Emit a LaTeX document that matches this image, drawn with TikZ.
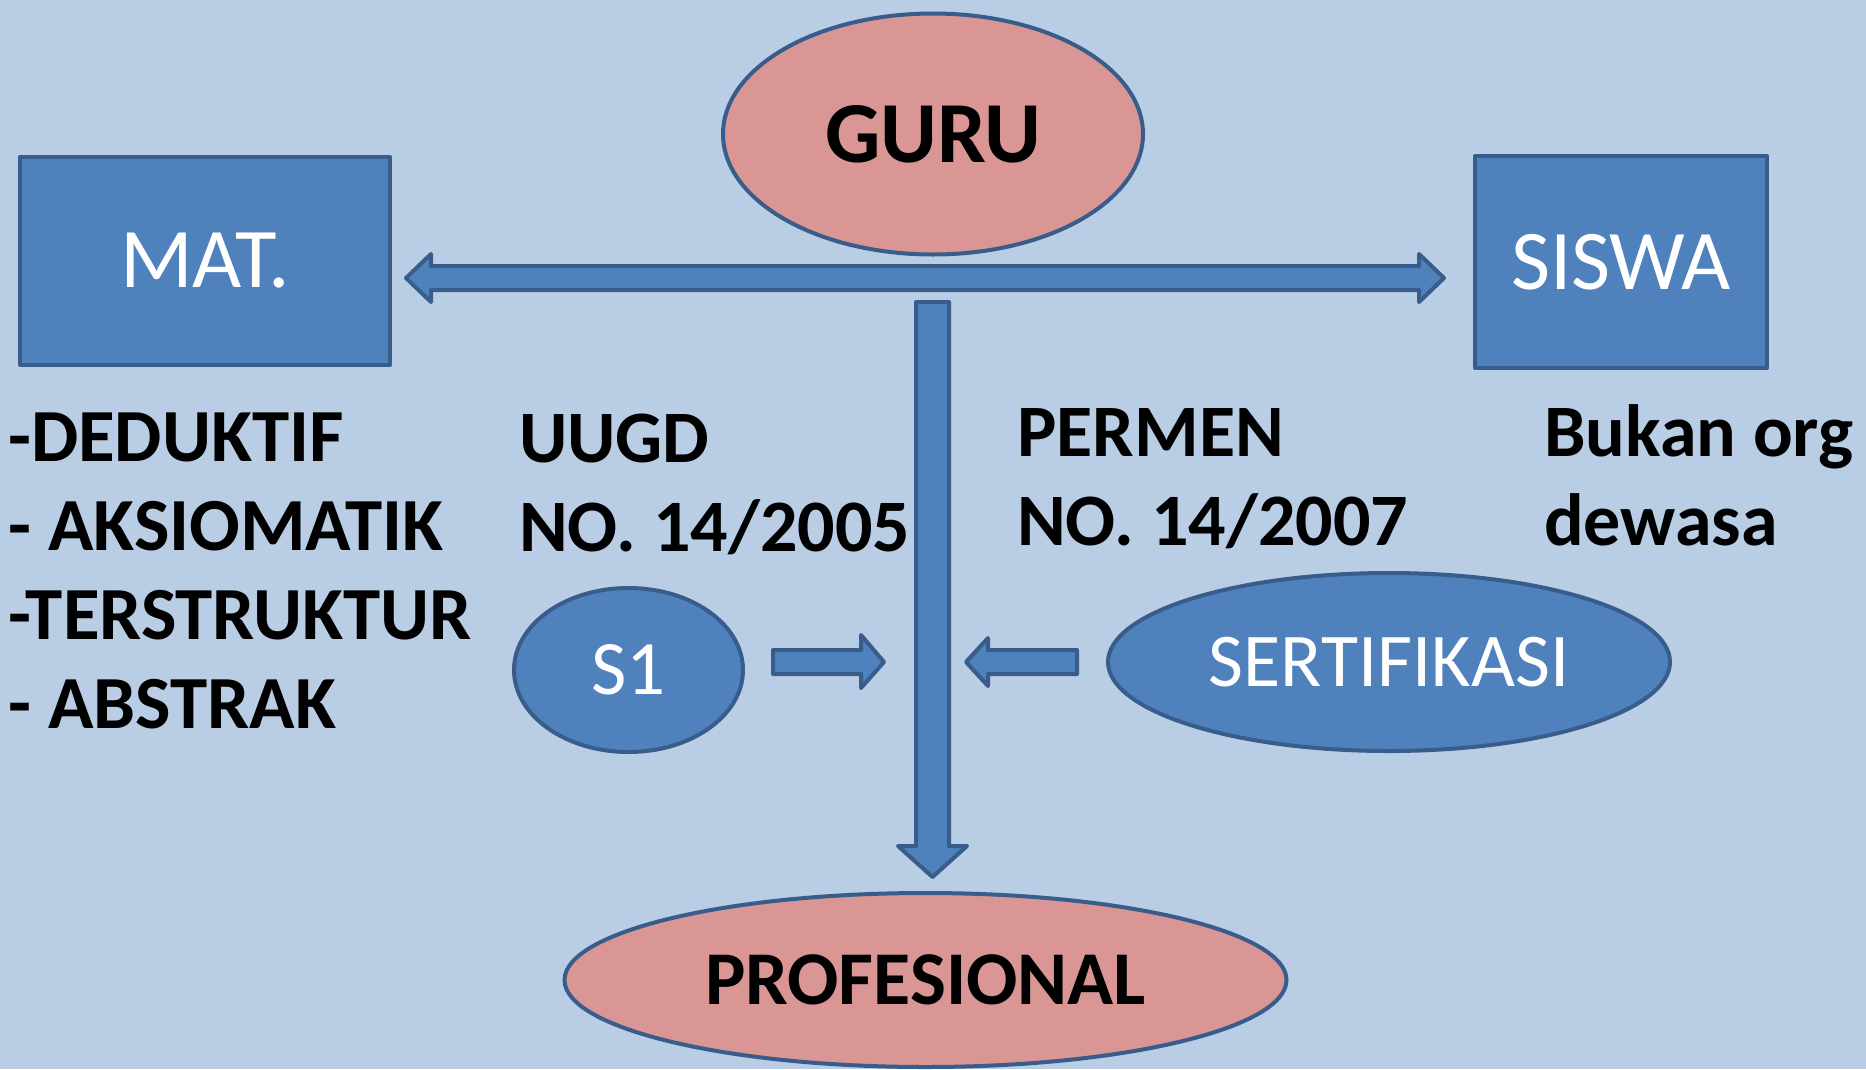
\documentclass[tikz,border=0pt]{standalone}
\usepackage{fontspec}
\setmainfont{Carlito}
\usepackage{tikz}
\usetikzlibrary{calc, shapes.geometric}

\definecolor{bgblue}{HTML}{B9CDE5}
\definecolor{boxblue}{HTML}{4F81BD}
\definecolor{edgeblue}{HTML}{385D8A}
\definecolor{rosepink}{HTML}{D99694}

\begin{document}
\begin{tikzpicture}[x=1pt, y=-1pt,
        shape border/.style={draw=edgeblue, line width=4pt, line join=round},
        bluebox/.style={shape border, fill=boxblue, text=white},
        blockarrow/.style={shape border, fill=boxblue},
        bigtext/.style={font=\fontsize{74}{90}\selectfont\bfseries, anchor=base west, inner sep=0pt}]
        % background
        \useasboundingbox (0,0) rectangle (1866,1069);
        \fill[bgblue] (0,0) rectangle (1866,1069);

        % top row
        \node[bluebox, rectangle, minimum width=370, minimum height=208,
              font=\fontsize{85}{100}\selectfont] (mat) at (205,261) {MAT.};
        \node[bluebox, rectangle, minimum width=292, minimum height=212,
              font=\fontsize{85}{100}\selectfont] (siswa) at (1621,262) {SISWA};
        \node[shape border, ellipse, fill=rosepink, minimum width=420, minimum height=241,
              font=\fontsize{87}{104}\selectfont\bfseries] (guru) at (933,134) {GURU};

        % arrow between MAT. and SISWA
        \coordinate (L) at (406,278);
        \coordinate (R) at (1444,278);
        \draw[blockarrow] (L) -- ++(25,-24) -- ++(0,12) -- ($(R)+(-25,-12)$) -- ++(0,-12)
            -- (R) -- ++(-25,24) -- ++(0,-12) -- ($(L)+(25,12)$) -- ++(0,12) -- cycle;

        % arrow down to PROFESIONAL
        \coordinate (T) at (932.5,302);
        \coordinate (B) at (932.5,877);
        \draw[blockarrow] ($(T)+(-16.5,0)$) -- ($(B)+(-16.5,-31)$) -- ++(-18,0) -- (B)
            -- ($(B)+(34.5,-31)$) -- ++(-18,0) -- ($(T)+(16.5,0)$) -- cycle;

        % side arrows
        \coordinate (S) at (773,662);
        \coordinate (P) at (966,662);
        \draw[blockarrow] (S) -- ++(0,-12) -- ++(88,0) -- ++(0,-15) -- ++(23,27)
            -- ++(-23,26) -- ++(0,-14) -- ++(-88,0) -- cycle;
        \draw[blockarrow] (P) -- ++(22,-24) -- ++(0,12) -- ++(89,0) -- ++(0,24)
            -- ++(-89,0) -- ++(0,12) -- cycle;

        % lower shapes
        \node[bluebox, ellipse, minimum width=229, minimum height=164,
              font=\fontsize{77}{92}\selectfont] (s1) at (628.5,670) {S1};
        \node[bluebox, ellipse, minimum width=562, minimum height=178,
              font=\fontsize{76}{92}\selectfont] (sert) at (1389,662) {SERTIFIKASI};
        \node[shape border, ellipse, fill=rosepink, minimum width=722, minimum height=174,
              font=\fontsize{76}{92}\selectfont\bfseries] (prof) at (925.5,980) {PROFESIONAL};

        % text columns
        \foreach \txt [count=\i from 0] in {-DEDUKTIF, - AKSIOMATIK, -TERSTRUKTUR, - ABSTRAK}
            \node[bigtext, font=\fontsize{75}{90}\selectfont\bfseries] (ciri\i) at (8,461+89.3*\i) {\txt};

        \node[bigtext] (uugd) at (519,462) {UUGD};
        \node[bigtext] (uugdno) at (519,551) {NO. 14/2005};
        \node[bigtext] (permen) at (1017,456) {PERMEN};
        \node[bigtext] (permenno) at (1017,545) {NO. 14/2007};
        \node[bigtext] (bukan) at (1544,456) {Bukan org};
        \node[bigtext] (dewasa) at (1544,545) {dewasa};
    \end{tikzpicture}
\end{document}
